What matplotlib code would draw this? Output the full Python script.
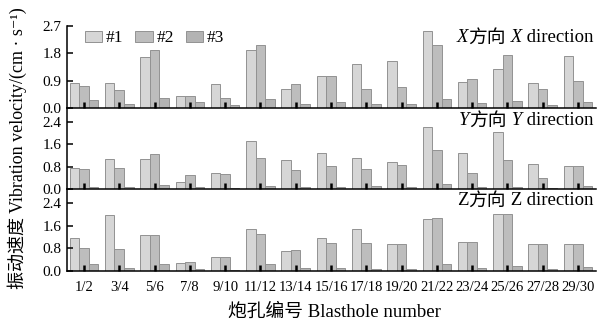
import matplotlib.pyplot as plt
import numpy as np

plt.rcParams['font.family'] = ['Liberation Serif', 'Noto Sans CJK SC', 'DejaVu Serif']
plt.rcParams['axes.linewidth'] = 1.1

# blasthole pairs
holes = ['1/2', '3/4', '5/6', '7/8', '9/10', '11/12', '13/14', '15/16',
         '17/18', '19/20', '21/22', '23/24', '25/26', '27/28', '29/30']

# peak vibration velocity, cm/s, per monitoring point (#1, #2, #3)
x_p1 = [0.81, 0.83, 1.67, 0.41, 0.78, 1.90, 0.64, 1.06, 1.44, 1.54, 2.52, 0.84, 1.27, 0.81, 1.70]
x_p2 = [0.73, 0.58, 1.90, 0.41, 0.34, 2.06, 0.79, 1.04, 0.64, 0.70, 2.07, 0.94, 1.73, 0.61, 0.88]
x_p3 = [0.25, 0.12, 0.32, 0.19, 0.09, 0.29, 0.12, 0.19, 0.12, 0.14, 0.29, 0.15, 0.22, 0.10, 0.19]

y_p1 = [0.75, 1.07, 1.07, 0.25, 0.57, 1.72, 1.04, 1.29, 1.11, 0.96, 2.21, 1.29, 2.04, 0.91, 0.82]
y_p2 = [0.72, 0.75, 1.25, 0.49, 0.54, 1.11, 0.68, 0.82, 0.72, 0.86, 1.40, 0.57, 1.03, 0.39, 0.82]
y_p3 = [0.07, 0.07, 0.14, 0.07, 0.04, 0.12, 0.07, 0.07, 0.11, 0.07, 0.18, 0.07, 0.08, 0.05, 0.11]

z_p1 = [1.16, 1.98, 1.26, 0.27, 0.49, 1.50, 0.70, 1.16, 1.48, 0.95, 1.84, 1.02, 2.03, 0.95, 0.95]
z_p2 = [0.83, 0.77, 1.27, 0.31, 0.51, 1.31, 0.74, 0.99, 0.99, 0.95, 1.88, 1.02, 2.03, 0.95, 0.95]
z_p3 = [0.23, 0.10, 0.24, 0.07, 0.02, 0.24, 0.11, 0.12, 0.07, 0.07, 0.24, 0.12, 0.17, 0.07, 0.13]

point_names = ['#1', '#2', '#3']
colors = ['#d6d6d6', '#bdbdbd', '#b3b3b3']
edge = '#929292'

W, H = 598, 327
fig = plt.figure(figsize=(W / 100, H / 100), dpi=100)


def px_rect(left, top, right, bottom):
    return [left / W, 1 - bottom / H, (right - left) / W, (bottom - top) / H]


ax_x = fig.add_axes(px_rect(67, 26, 596, 108))
ax_y = fig.add_axes(px_rect(67, 108, 596, 189))
ax_z = fig.add_axes(px_rect(67, 189, 596, 271))

pos = np.arange(len(holes))
width = 0.27


def direction_label(ax, parts, y):
    # chain text pieces right-to-left so italic letters and CJK sit side by side
    prev = None
    for text, italic in reversed(parts):
        style = 'italic' if italic else 'normal'
        if prev is None:
            prev = ax.annotate(text, xy=(0.995, y), xycoords='axes fraction',
                               ha='right', va='center', fontsize=13.5, fontstyle=style)
        else:
            prev = ax.annotate(text, xy=(0, 0.5), xycoords=prev,
                               ha='right', va='center', fontsize=13.5, fontstyle=style)


panels = [
    (ax_x, [x_p1, x_p2, x_p3], 2.7, [0, 0.9, 1.8, 2.7], 0.854,
     [('X', True), ('方向', False), (' X', True), (' direction', False)]),
    (ax_y, [y_p1, y_p2, y_p3], 2.9, [0, 0.8, 1.6, 2.4], 0.84,
     [('Y', True), ('方向', False), (' Y', True), (' direction', False)]),
    (ax_z, [z_p1, z_p2, z_p3], 2.9, [0, 0.8, 1.6, 2.4], 0.854,
     [('Z', False), ('方向', False), (' Z', False), (' direction', False)]),
]

for ax, series, ytop, yticks, ty, title in panels:
    for i, vals in enumerate(series):
        ax.bar(pos + (i - 1) * width, vals, width, color=colors[i],
               edgecolor=edge, linewidth=0.7, label=point_names[i])
    ax.set_xlim(-0.48, 14.51)
    ax.set_ylim(0, ytop)
    ax.set_yticks(yticks)
    ax.set_yticklabels([f'{v:.1f}' for v in yticks])
    ax.set_xticks(pos)
    ax.spines['top'].set_visible(False)
    ax.spines['right'].set_visible(False)
    ax.tick_params(axis='y', direction='in', length=4, width=1.1, labelsize=11, pad=4)
    ax.tick_params(axis='x', direction='in', length=4, width=1.8, labelsize=10.5, pad=7)
    ax.patch.set_alpha(0)
    direction_label(ax, title, ty)

ax_x.tick_params(axis='x', labelbottom=False)
ax_y.tick_params(axis='x', labelbottom=False)
ax_z.set_xticklabels(holes)

ax_x.legend(loc='center left', bbox_to_anchor=(0.034, 0.848), ncol=3, frameon=False,
            fontsize=12.5, borderpad=0, borderaxespad=0, handlelength=1.0,
            handleheight=0.65, handletextpad=0.2, columnspacing=0.7)

fig.text(17 / W, 1 - 148 / H, '振动速度 Vibration velocity/(cm · s⁻¹)',
         rotation=90, ha='center', va='center', fontsize=13)
fig.text(334 / W, 1 - 312 / H, '炮孔编号 Blasthole number',
         ha='center', va='center', fontsize=13.5)

fig.savefig('out.png', dpi=100)
